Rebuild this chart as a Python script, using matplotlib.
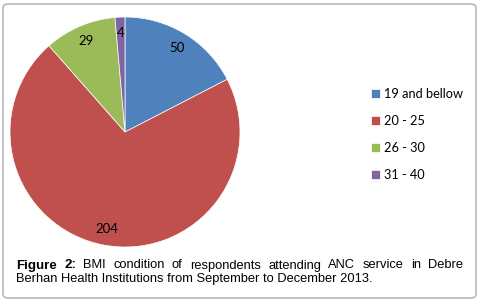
import matplotlib.pyplot as plt
from matplotlib.patches import FancyBboxPatch

categories = ["19 and bellow", "20 - 25", "26 - 30", "31 - 40"]
counts = [50, 204, 29, 4]
colors = ["#4F81BD", "#C0504D", "#9BBB59", "#8064A2"]
caption_bold = ["Figure", "2:"]
caption_line1 = ["BMI", "condition", "of", "respondents", "attending", "ANC",
                 "service", "in", "Debre"]
caption_line2 = "Berhan Health Institutions from September to December 2013."

W, H = 479, 301
fig = plt.figure(figsize=(W / 100, H / 100), dpi=100)

# rounded frame round the whole figure
frame = FancyBboxPatch((3 / W, 3 / H), 473 / W, 294 / H,
                       boxstyle="round,pad=0,rounding_size=0.012",
                       transform=fig.transFigure, facecolor="none",
                       edgecolor="#bdbdbd", linewidth=1.3, zorder=5)
fig.patches.append(frame)

# pie: centre (125,132), radius 115 px
ax = fig.add_axes([10 / W, (H - 247) / H, 230 / W, 230 / H])
total = sum(counts)
wedges, texts, autotexts = ax.pie(
    counts, colors=colors, startangle=90, counterclock=False,
    autopct=lambda p: f"{round(p * total / 100):d}", pctdistance=0.86,
    wedgeprops=dict(edgecolor="white", linewidth=0.5),
    textprops=dict(fontsize=9.5, family="Lato", color="black"))
ax.set_xlim(-1, 1)
ax.set_ylim(-1, 1)
ax.axis("off")

fig.legend(wedges, categories, loc="upper left",
           bbox_to_anchor=(371 / W, 1 - 88 / H), frameon=False,
           prop=dict(family="Lato", size=9.2), handlelength=0.7,
           handleheight=0.7, handletextpad=0.3, labelspacing=1.17,
           borderpad=0, borderaxespad=0)

# caption, first line justified
fs = 9.3
x0, x1 = 16, 463
y1 = 1 - 268.5 / H
y2 = 1 - 282 / H
renderer = fig.canvas.get_renderer()
words = [(w, "bold", fs + 0.3) for w in caption_bold] + \
        [(w, "normal", fs) for w in caption_line1]
items = []
for w, weight, size in words:
    t = fig.text(0, y1, w, fontsize=size, family="Liberation Sans",
                 fontweight=weight, va="baseline")
    items.append(t)
widths = [t.get_window_extent(renderer).width for t in items]
gap = (x1 - x0 - sum(widths)) / (len(items) - 1)
x = x0
for t, wd in zip(items, widths):
    t.set_x(x / W)
    x += wd + gap
fig.text(x0 / W, y2, caption_line2, fontsize=fs, family="Liberation Sans",
         va="baseline")

fig.savefig("out.png", dpi=100)
